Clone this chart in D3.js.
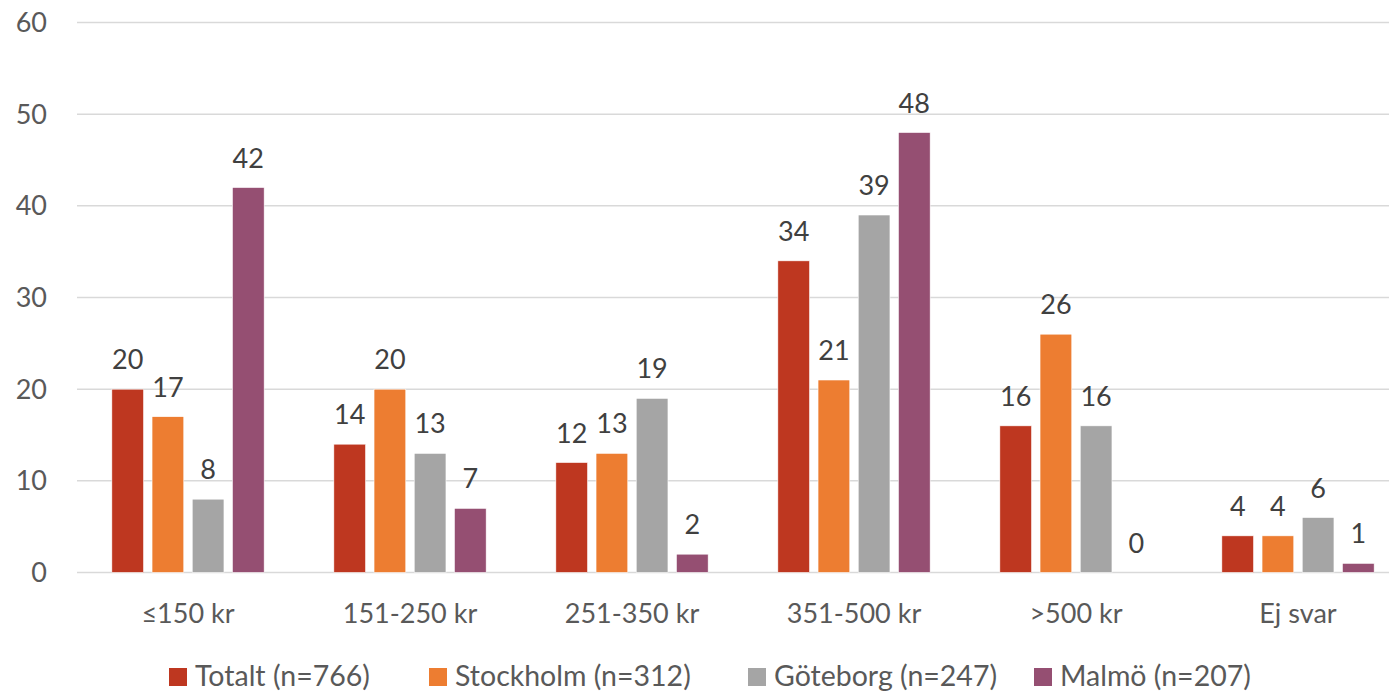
<!DOCTYPE html>
<html>
<head>
<meta charset="utf-8">
<script src="https://d3js.org/d3.v7.min.js"></script>
<style>
  body { margin: 0; background: #fff; }
  svg { display: block; font-family: Lato, 'Open Sans', sans-serif; }
</style>
</head>
<body>
<svg id="svg"></svg>
<script>
  // data
  let categories = ['≤150 kr', '151-250 kr', '251-350 kr', '351-500 kr', '>500 kr', 'Ej svar'];
  let seriesNames = ['Totalt (n=766)', 'Stockholm (n=312)', 'Göteborg (n=247)', 'Malmö (n=207)'];
  let totalt    = [20, 14, 12, 34, 16, 4];
  let stockholm = [17, 20, 13, 21, 26, 4];
  let goteborg  = [8, 13, 19, 39, 16, 6];
  let malmo     = [42, 7, 2, 48, 0, 1];
  let yTicks = [0, 10, 20, 30, 40, 50, 60];

  let colors = ['#BE3720', '#ED7D31', '#A5A5A5', '#954F72'];
  let values = [totalt, stockholm, goteborg, malmo];

  let width = 1389, height = 691;
  let svg = d3.select('#svg').attr('width', width).attr('height', height);

  let x0 = d3.scaleBand().domain(categories).range([77, 1409]);
  let x1 = d3.scaleBand().domain(d3.range(4))
    .range([0, x0.bandwidth()])
    .paddingInner(0.21)
    .paddingOuter(0.867);
  let y = d3.scaleLinear().domain([0, 60]).range([572.5, 22.5]);

  // gridlines
  svg.append('g').selectAll('line')
    .data(yTicks)
    .enter().append('line')
    .attr('x1', 77).attr('x2', width)
    .attr('y1', d => y(d)).attr('y2', d => y(d))
    .attr('stroke', '#D9D9D9')
    .attr('stroke-width', 1.5);

  // y axis labels
  svg.append('g').selectAll('text')
    .data(yTicks)
    .enter().append('text')
    .attr('x', 47)
    .attr('y', d => y(d))
    .attr('dy', '0.35em')
    .attr('text-anchor', 'end')
    .attr('fill', '#595959')
    .style('font-size', '27px')
    .text(d => d);

  // bars
  let groups = svg.append('g').selectAll('g')
    .data(categories)
    .enter().append('g')
    .attr('transform', d => `translate(${x0(d)},0)`);

  groups.selectAll('rect')
    .data((c, i) => values.map((v, s) => ({ s: s, v: v[i] })))
    .enter().append('rect')
    .attr('x', d => x1(d.s))
    .attr('width', x1.bandwidth())
    .attr('y', d => y(d.v))
    .attr('height', d => y(0) - y(d.v))
    .attr('fill', d => colors[d.s])
    .attr('stroke', '#fff')
    .attr('stroke-width', 0.6);

  groups.selectAll('text')
    .data((c, i) => values.map((v, s) => ({ s: s, v: v[i] })))
    .enter().append('text')
    .attr('x', d => x1(d.s) + x1.bandwidth() / 2)
    .attr('y', d => y(d.v) - 20)
    .attr('text-anchor', 'middle')
    .attr('fill', '#404040')
    .style('font-size', '27px')
    .text(d => d.v);

  // x axis labels
  svg.append('g').selectAll('text')
    .data(categories)
    .enter().append('text')
    .attr('x', d => x0(d) + x0.bandwidth() / 2)
    .attr('y', 623)
    .attr('text-anchor', 'middle')
    .attr('fill', '#595959')
    .style('font-size', '27px')
    .text(d => d);

  // legend
  let legendX = [169, 429, 748, 1034];
  let legend = svg.append('g').selectAll('g')
    .data(seriesNames)
    .enter().append('g')
    .attr('transform', (d, i) => `translate(${legendX[i]},668)`);

  legend.append('rect')
    .attr('width', 18).attr('height', 18)
    .attr('fill', (d, i) => colors[i]);

  legend.append('text')
    .attr('x', 26)
    .attr('y', 18)
    .attr('fill', '#595959')
    .style('font-size', '28.5px')
    .text(d => d);
</script>
</body>
</html>
